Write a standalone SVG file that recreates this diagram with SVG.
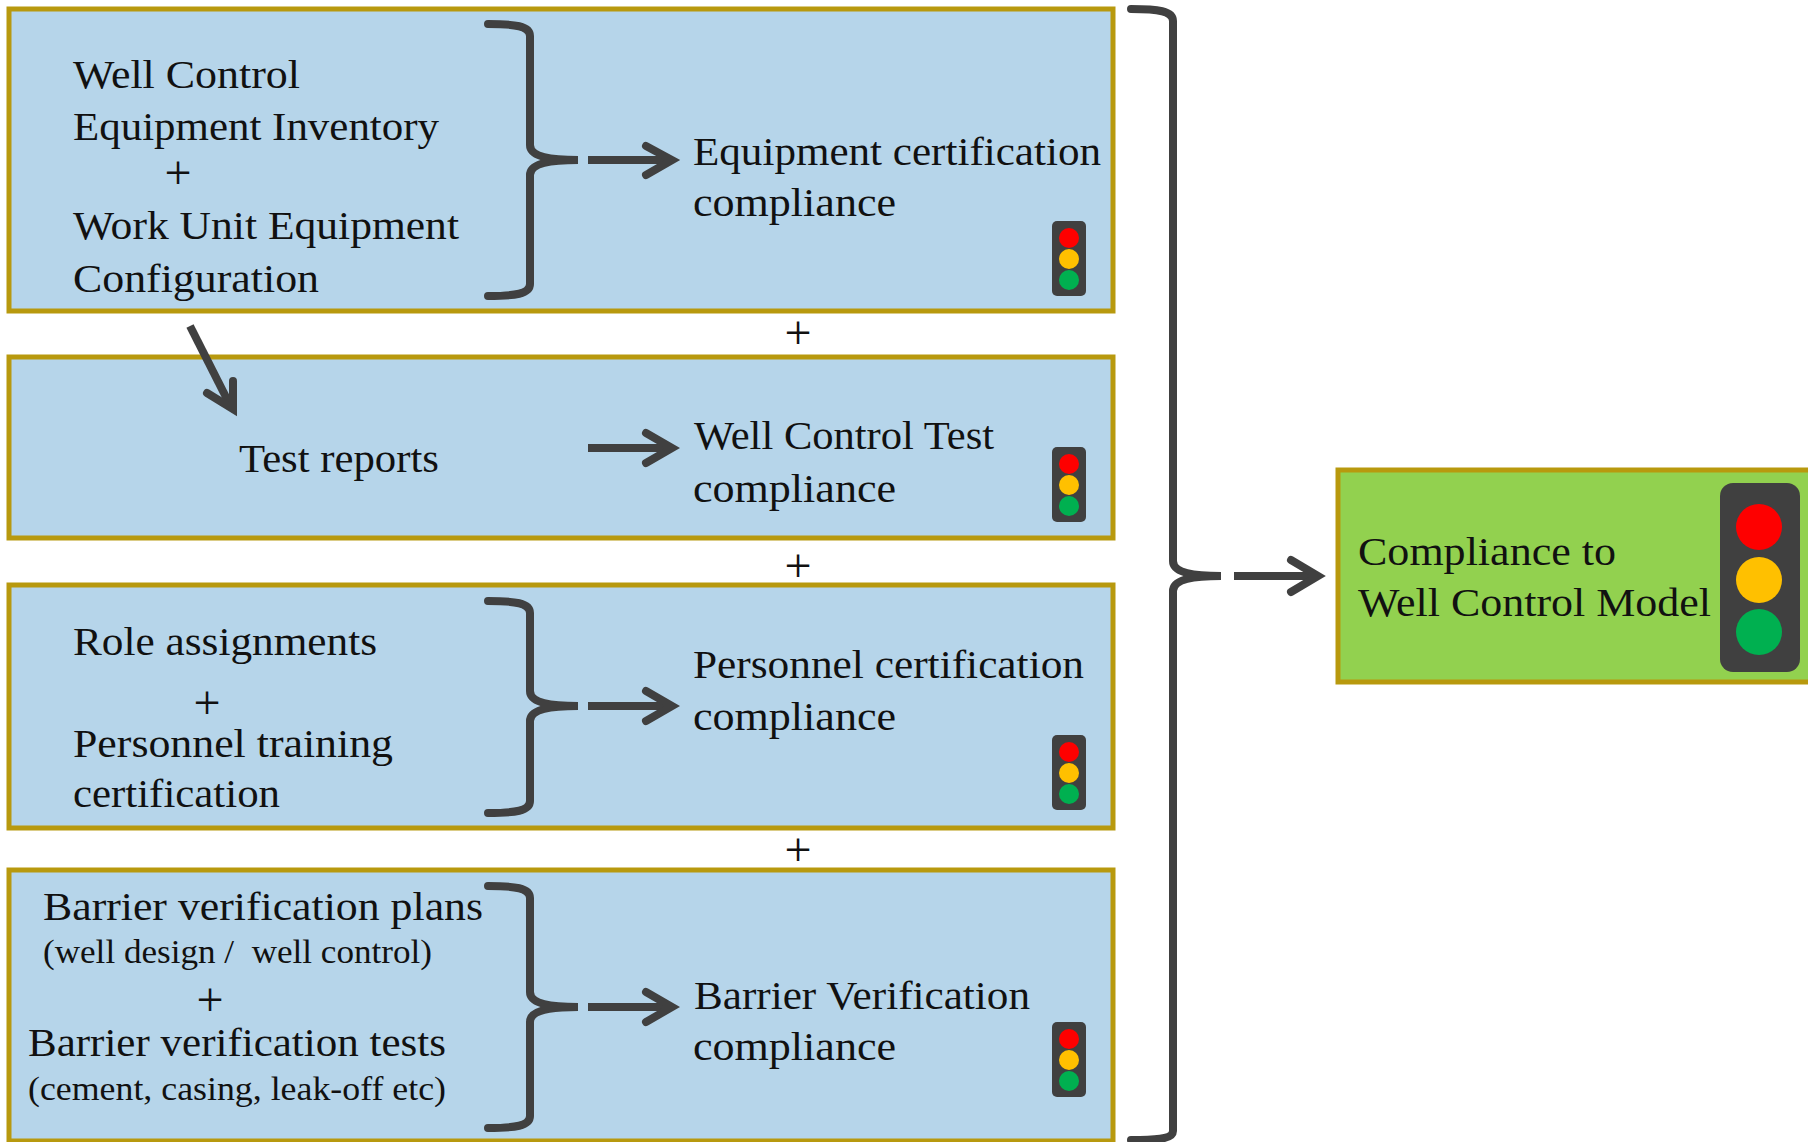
<svg xmlns="http://www.w3.org/2000/svg" width="1808" height="1142" viewBox="0 0 1808 1142">
<style>
text{font-family:"Liberation Serif","Times New Roman",serif;font-size:40px;fill:#111;white-space:pre}
text.s{font-size:33px}
text.p{font-size:48px;text-anchor:middle}
.box{fill:#b6d5ea;stroke:#b8990e;stroke-width:5}
.green{fill:#92d14f;stroke:#b8990e;stroke-width:5}
.c{fill:none;stroke:#404040;stroke-width:8;stroke-linecap:round;stroke-linejoin:miter}
.a{fill:none;stroke:#404040;stroke-width:8;stroke-linejoin:miter}
.h{fill:none;stroke:#404040;stroke-width:8;stroke-linecap:round}
.hous{fill:#404040}.r{fill:#fe0000}.y{fill:#ffc000}.g{fill:#00b050}
</style>
<defs>
<g id="tl">
<rect class="hous" x="0" y="0" width="34" height="75" rx="5"/>
<ellipse class="r" cx="17" cy="17" rx="10" ry="10"/>
<ellipse class="y" cx="17" cy="38" rx="10" ry="10"/>
<ellipse class="g" cx="17" cy="59" rx="10" ry="10"/>
</g>
</defs>
<g id="node-equipment">
<rect class="box" x="9" y="9" width="1104" height="302"/>
<text x="73" y="88" textLength="227" lengthAdjust="spacingAndGlyphs">Well Control</text>
<text x="73" y="140" textLength="366" lengthAdjust="spacingAndGlyphs">Equipment Inventory</text>
<text class="p" x="178" y="189">+</text>
<text x="73" y="239" textLength="386" lengthAdjust="spacingAndGlyphs">Work Unit Equipment</text>
<text x="73" y="292" textLength="246" lengthAdjust="spacingAndGlyphs">Configuration</text>
<text x="693" y="165" textLength="408" lengthAdjust="spacingAndGlyphs">Equipment certification</text>
<text x="693" y="216" textLength="203" lengthAdjust="spacingAndGlyphs">compliance</text>
<use href="#tl" x="1052" y="221"/>
</g>
<g id="node-test">
<rect class="box" x="9" y="357" width="1104" height="181"/>
<text x="239" y="472" textLength="200" lengthAdjust="spacingAndGlyphs">Test reports</text>
<text x="694" y="449" textLength="300" lengthAdjust="spacingAndGlyphs">Well Control Test</text>
<text x="693" y="502" textLength="203" lengthAdjust="spacingAndGlyphs">compliance</text>
<use href="#tl" x="1052" y="447"/>
</g>
<g id="node-personnel">
<rect class="box" x="9" y="585" width="1104" height="243"/>
<text x="73" y="655" textLength="304" lengthAdjust="spacingAndGlyphs">Role assignments</text>
<text class="p" x="207" y="719">+</text>
<text x="73" y="757" textLength="320" lengthAdjust="spacingAndGlyphs">Personnel training</text>
<text x="73" y="807" textLength="207" lengthAdjust="spacingAndGlyphs">certification</text>
<text x="693" y="678" textLength="391" lengthAdjust="spacingAndGlyphs">Personnel certification</text>
<text x="693" y="730" textLength="203" lengthAdjust="spacingAndGlyphs">compliance</text>
<use href="#tl" x="1052" y="735"/>
</g>
<g id="node-barrier">
<rect class="box" x="9" y="870" width="1104" height="271"/>
<text x="43" y="920" textLength="440" lengthAdjust="spacingAndGlyphs">Barrier verification plans</text>
<text class="s" x="43" y="963" textLength="389" lengthAdjust="spacingAndGlyphs" xml:space="preserve">(well design /  well control)</text>
<text class="p" x="210" y="1016">+</text>
<text x="28" y="1056" textLength="418" lengthAdjust="spacingAndGlyphs">Barrier verification tests</text>
<text class="s" x="28" y="1100" textLength="418" lengthAdjust="spacingAndGlyphs">(cement, casing, leak-off etc)</text>
<text x="694" y="1009" textLength="336" lengthAdjust="spacingAndGlyphs">Barrier Verification</text>
<text x="693" y="1060" textLength="203" lengthAdjust="spacingAndGlyphs">compliance</text>
<use href="#tl" x="1052" y="1022"/>
</g>
<g id="node-model">
<rect class="green" x="1338" y="470" width="480" height="212"/>
<text x="1358" y="565" textLength="258" lengthAdjust="spacingAndGlyphs">Compliance to</text>
<text x="1358" y="616" textLength="353" lengthAdjust="spacingAndGlyphs">Well Control Model</text>
<rect class="hous" x="1720" y="483" width="80" height="189" rx="13"/>
<ellipse class="r" cx="1759" cy="527" rx="23" ry="23"/>
<ellipse class="y" cx="1759" cy="580" rx="23" ry="23"/>
<ellipse class="g" cx="1759" cy="632" rx="23" ry="23"/>
</g>
<g id="plus">
<text class="p" x="798" y="349">+</text>
<text class="p" x="798" y="582">+</text>
<text class="p" x="798" y="866">+</text>
</g>
<g id="connectors">
<path class="c" d="M488 24C515 24 530 26 530 36V145C530 155 545 160 578 160C545 160 530 165 530 175V284C530 294 515 296 488 296"/>
<path class="c" d="M488 601C515 601 530 603 530 613V691C530 701 545 706 578 706C545 706 530 711 530 721V801C530 811 515 813 488 813"/>
<path class="c" d="M488 886C515 886 530 888 530 898V992C530 1002 545 1007 578 1007C545 1007 530 1012 530 1022V1116C530 1126 515 1128 488 1128"/>
<path class="c" d="M1131 9C1158 9 1173 11 1173 21V561C1173 571 1188 576 1221 576C1188 576 1173 581 1173 591V1131C1173 1139 1158 1140 1131 1140"/>
<path class="a" d="M588 160H670"/><path class="h" d="M646 146L672 160L646 175"/>
<path class="a" d="M588 448H670"/><path class="h" d="M646 433L672 448L646 463"/>
<path class="a" d="M588 706H670"/><path class="h" d="M646 691L672 706L646 721"/>
<path class="a" d="M588 1007H670"/><path class="h" d="M646 992L672 1007L646 1022"/>
<path class="a" d="M1234 576H1316"/><path class="h" d="M1291 560L1318 576L1291 592"/>
<path class="a" d="M190 326L231 407"/><path class="h" d="M207 393L233 409L233 381"/>
</g>
</svg>
